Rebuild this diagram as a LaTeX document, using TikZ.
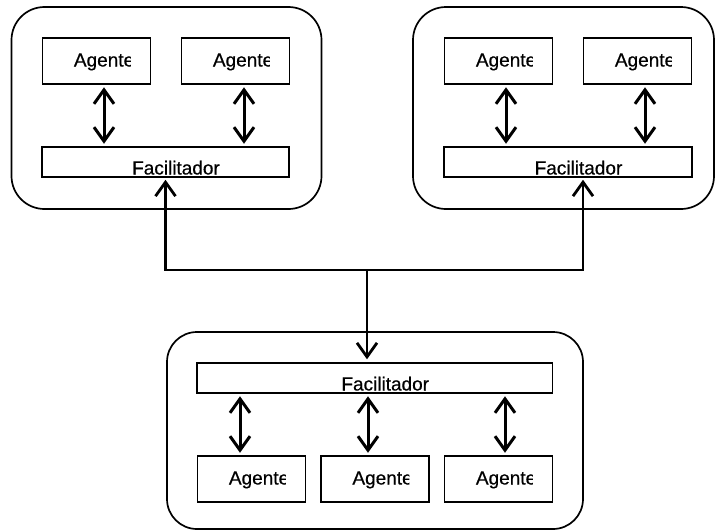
\documentclass[tikz,border=0pt]{standalone}
\usepackage{fontspec}
\newfontfamily\diafont[FakeBold=0.5]{Liberation Sans}
\usetikzlibrary{arrows.meta}
\tikzset{
  group/.style={draw, line width=1.7pt, rounded corners=33pt, inner sep=0pt},
  agentbox/.style={draw, line width=1.5pt, minimum width=108pt, minimum height=46pt, inner sep=0pt},
  facbox/.style={draw, line width=1.5pt, minimum height=30pt, inner sep=0pt},
  lbl/.style={inner sep=0pt, font=\diafont\fontsize{19}{22}\selectfont},
  biarrow/.style={line width=3pt, {Straight Barb[length=14pt, width=20pt]}-{Straight Barb[length=14pt, width=20pt]}, shorten <=2.5pt, shorten >=2.5pt},
  conn/.style={line width=2.8pt}
}
\newcommand{\agtext}[1]{%
  \begin{scope}
    \clip (#1.north west) rectangle ([xshift=89pt]#1.south west);
    \node[lbl, anchor=base west] (#1t) at ([xshift=32pt,yshift=-5.5pt]#1.west) {Agente};
  \end{scope}}
\newcommand{\factext}[1]{%
  \node[lbl, anchor=base] (#1t) at ([xshift=10.5pt,yshift=-12.5pt]#1.center) {Facilitador};}
\begin{document}
\begin{tikzpicture}[x=1pt, y=-1pt]
\useasboundingbox (0,0) rectangle (715,531);
% groups
\node[group, minimum width=310pt, minimum height=202pt] (g1) at (166.5,108) {};
\node[group, minimum width=301pt, minimum height=202pt] (g2) at (563.5,108) {};
\node[group, rounded corners=30pt, minimum width=416pt, minimum height=197pt] (g3) at (375,430.5) {};
% top-left
\node[agentbox] (a1) at (96.5,61) {};
\node[agentbox] (a2) at (235.5,61) {};
\node[facbox, minimum width=247pt] (f1) at (165.5,162) {};
% top-right
\node[agentbox] (a3) at (498.5,61) {};
\node[agentbox] (a4) at (637.5,61) {};
\node[facbox, minimum width=248pt] (f2) at (568,162) {};
% bottom
\node[facbox, minimum width=355.5pt] (f3) at (374.75,378) {};
\node[agentbox] (a5) at (251.5,479) {};
\node[agentbox] (a6) at (375,479) {};
\node[agentbox] (a7) at (498.5,479) {};
% labels
\agtext{a1}\agtext{a2}\agtext{a3}\agtext{a4}\agtext{a5}\agtext{a6}\agtext{a7}
\factext{f1}\factext{f2}\factext{f3}
% agent-facilitator arrows
\draw[biarrow] ([xshift=7.5pt]a1.south) -- ([xshift=7.5pt]a1.south |- f1.north);
\draw[biarrow] ([xshift=8.5pt]a2.south) -- ([xshift=8.5pt]a2.south |- f1.north);
\draw[biarrow] ([xshift=7.5pt]a3.south) -- ([xshift=7.5pt]a3.south |- f2.north);
\draw[biarrow] ([xshift=7.5pt]a4.south) -- ([xshift=7.5pt]a4.south |- f2.north);
\draw[biarrow] ([xshift=-11.5pt]a5.north) -- ([xshift=-11.5pt]a5.north |- f3.south);
\draw[biarrow] ([xshift=-7pt]a6.north) -- ([xshift=-7pt]a6.north |- f3.south);
\draw[biarrow] ([xshift=6.5pt]a7.north) -- ([xshift=6.5pt]a7.north |- f3.south);
% inter-group connector
\coordinate (j) at (367,270);
\coordinate (r) at ([xshift=15pt]f2.south);
\draw[conn, {Straight Barb[length=14pt, width=20pt]}-{Straight Barb[length=14pt, width=20pt]}, shorten <=2pt, shorten >=2pt]
  (f1.south) -- (f1.south |- j) -- (r |- j) -- (r);
\draw[conn, -{Straight Barb[length=14pt, width=20pt]}, shorten >=3pt] (j) -- (j |- f3.north);
\end{tikzpicture}
\end{document}
